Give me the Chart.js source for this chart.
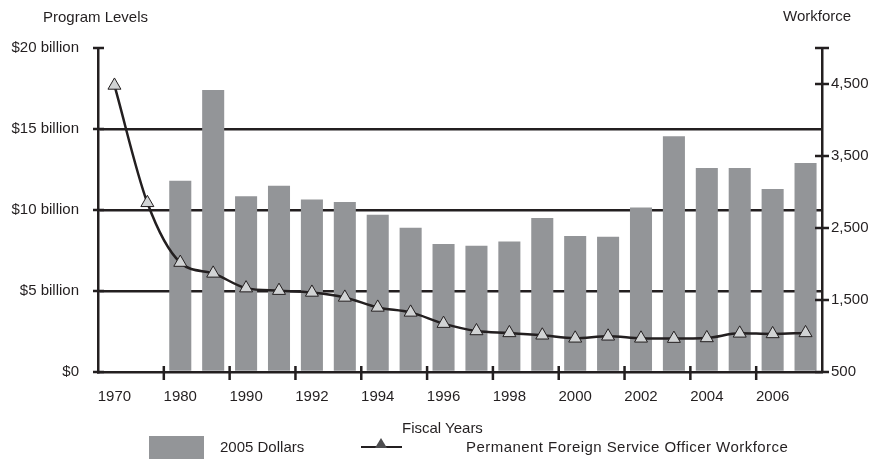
<!DOCTYPE html>
<html>
<head>
<meta charset="utf-8">
<script src="https://cdn.jsdelivr.net/npm/chart.js@4.4.1/dist/chart.umd.min.js"></script>
<style>
  body { margin: 0; background: #fff; }
  #wrap { position: relative; width: 874px; height: 459px; font-family: "Liberation Sans", Arial, sans-serif; font-size: 15px; color: #231f20; }
  .lbl { position: absolute; white-space: nowrap; line-height: 18px; }
  #barKey { position: absolute; left: 149px; top: 436px; width: 55px; height: 23px; background: #939598; }
  #lineKey { position: absolute; left: 361px; top: 446px; width: 41px; height: 2px; background: #231f20; }
  #lineKey span { position: absolute; left: 14px; top: -8px; width: 0; height: 0;
    border-left: 6px solid transparent; border-right: 6px solid transparent; border-bottom: 10px solid #4d4d4f; }
</style>
</head>
<body>
<div id="wrap">
  <canvas id="chart" width="874" height="459"></canvas>
  <div class="lbl" style="left:43px; top:8px;">Program Levels</div>
  <div class="lbl" style="left:783px; top:7px;">Workforce</div>
  <div class="lbl" style="left:402px; top:419px;">Fiscal Years</div>
  <div id="barKey"></div>
  <div class="lbl" id="barText" style="left:220px; top:438px;"></div>
  <div id="lineKey"><span></span></div>
  <div class="lbl" id="lineText" style="left:466px; top:438px; letter-spacing:0.45px;"></div>
</div>
<script>
// fiscal years on the x axis (every other one gets a label)
const years = ['1970', '1975', '1980', '1985', '1990', '1991', '1992', '1993', '1994', '1995', '1996',
  '1997', '1998', '1999', '2000', '2001', '2002', '2003', '2004', '2005', '2006', '2007'];

// program levels, billions of 2005 dollars (no bars for 1970 / 1975)
const programLevels = [null, null, 11.8, 17.4, 10.85, 11.5, 10.65, 10.5, 9.7, 8.9, 7.9,
  7.8, 8.05, 9.5, 8.4, 8.35, 10.15, 14.55, 12.6, 12.6, 11.3, 12.9];

// permanent foreign service officer workforce
const workforce = [4480, 2850, 2020, 1870, 1665, 1630, 1605, 1536, 1397, 1328, 1172,
  1070, 1043, 1010, 968, 996, 968, 964, 973, 1037, 1029, 1043];

const programTicks = [0, 5, 10, 15, 20];
const programTickLabels = ['$0', '$5 billion', '$10 billion', '$15 billion', '$20 billion'];
const workforceTicks = [500, 1500, 2500, 3500, 4500, 5000];
const workforceTickLabels = ['500', '1,500', '2,500', '3,500', '4,500', ''];

const barLabel = '2005 Dollars';
const lineLabel = 'Permanent Foreign Service Officer Workforce';

const dark = '#231f20';
const font = { family: '"Liberation Sans", Arial, sans-serif', size: 15 };

document.getElementById('barText').textContent = barLabel;
document.getElementById('lineText').textContent = lineLabel;

// ticks that cross the axis lines, like the printed chart
const crossTicks = {
    id: 'crossTicks',
    afterDraw(chart) {
        const ctx = chart.ctx;
        const s = chart.scales;
        ctx.save();
        ctx.strokeStyle = dark;
        ctx.lineWidth = 2.5;
        ctx.beginPath();
        s.y.ticks.forEach(t => {
            const py = s.y.getPixelForValue(t.value);
            ctx.moveTo(s.y.right - 5, py);
            ctx.lineTo(s.y.right + 6, py);
        });
        s.y1.ticks.forEach(t => {
            const py = s.y1.getPixelForValue(t.value);
            ctx.moveTo(s.y1.left - 7, py);
            ctx.lineTo(s.y1.left + 7, py);
        });
        for (let i = 2; i < years.length - 1; i += 2) {
            const px = (s.x.getPixelForValue(i - 1) + s.x.getPixelForValue(i)) / 2;
            ctx.moveTo(px, s.x.top - 6);
            ctx.lineTo(px, s.x.top + 8);
        }
        ctx.stroke();
        ctx.restore();
    }
};

new Chart(document.getElementById('chart'), {
    data: {
        labels: years,
        datasets: [
            {
                type: 'line',
                label: lineLabel,
                data: workforce,
                yAxisID: 'y1',
                borderColor: dark,
                borderWidth: 2.5,
                cubicInterpolationMode: 'monotone',
                pointStyle: 'triangle',
                pointRadius: 7.5,
                pointBackgroundColor: '#d1d3d4',
                pointBorderColor: dark,
                pointBorderWidth: 1,
                order: 0
            },
            {
                type: 'bar',
                label: barLabel,
                data: programLevels,
                yAxisID: 'y',
                backgroundColor: '#939598',
                categoryPercentage: 1,
                barPercentage: 0.67,
                order: 1
            }
        ]
    },
    options: {
        responsive: false,
        animation: false,
        devicePixelRatio: 1,
        layout: { padding: { top: 48, left: 0, right: 0, bottom: 0 } },
        plugins: { legend: { display: false }, tooltip: { enabled: false } },
        scales: {
            x: {
                offset: true,
                grid: { display: true, drawOnChartArea: false, drawTicks: false, color: 'transparent' },
                border: { display: true, color: dark, width: 2.5 },
                ticks: {
                    autoSkip: false,
                    maxRotation: 0,
                    padding: 16,
                    color: dark,
                    font: font,
                    callback: (v, i) => (i % 2 === 0 ? years[i] : '')
                },
                afterFit: s => { s.height = 87; }
            },
            y: {
                position: 'left',
                min: 0,
                max: 20,
                afterBuildTicks: s => { s.ticks = programTicks.map(v => ({ value: v })); },
                grid: {
                    drawTicks: false,
                    lineWidth: 2.5,
                    color: c => (c.tick && c.tick.value > 0 && c.tick.value < 20 ? dark : 'transparent')
                },
                border: { display: true, color: dark, width: 2.5 },
                ticks: {
                    padding: 19,
                    color: dark,
                    font: font,
                    callback: (v, i) => programTickLabels[i]
                },
                afterFit: s => { s.width = 98; }
            },
            y1: {
                position: 'right',
                min: 500,
                max: 5000,
                afterBuildTicks: s => { s.ticks = workforceTicks.map(v => ({ value: v })); },
                grid: { drawOnChartArea: false, drawTicks: false },
                border: { display: true, color: dark, width: 2.5 },
                ticks: {
                    padding: 9,
                    color: dark,
                    font: font,
                    callback: (v, i) => workforceTickLabels[i]
                },
                afterFit: s => { s.width = 52; }
            }
        }
    },
    plugins: [crossTicks]
});
</script>
</body>
</html>
